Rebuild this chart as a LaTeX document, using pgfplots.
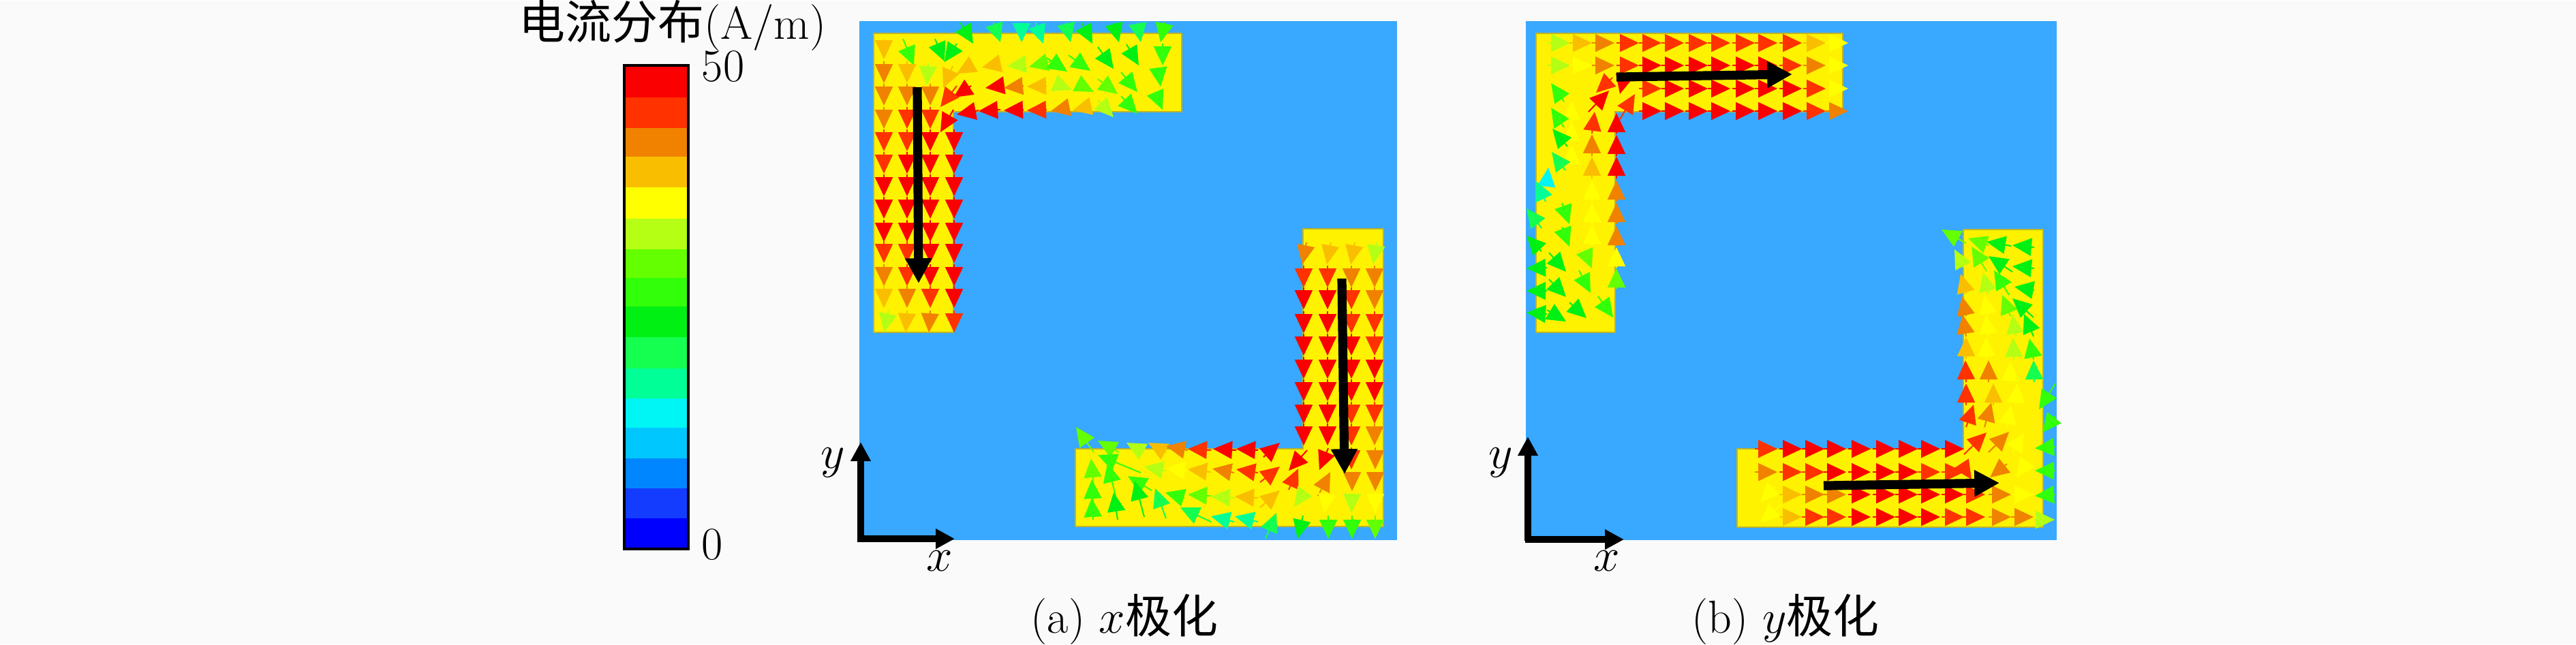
\documentclass[border=0pt]{standalone}
\usepackage{fontspec}
\usepackage{pgfplots}
\pgfplotsset{compat=1.18}
\usetikzlibrary{arrows.meta}
\newfontfamily\cjk{Noto Sans CJK SC}
\newcommand{\fs}{\fontsize{17}{20}\selectfont}
\definecolor{pagebg}{RGB}{250,250,250}
\definecolor{panelblue}{RGB}{57,168,255}
\definecolor{edgeol}{RGB}{190,180,40}
\definecolor{cb1}{RGB}{0,0,255}
\definecolor{cb2}{RGB}{20,60,255}
\definecolor{cb3}{RGB}{0,135,255}
\definecolor{cb4}{RGB}{0,200,255}
\definecolor{cb5}{RGB}{0,245,245}
\definecolor{cb6}{RGB}{0,255,150}
\definecolor{cb7}{RGB}{20,255,80}
\definecolor{cb8}{RGB}{0,240,20}
\definecolor{cb9}{RGB}{50,255,10}
\definecolor{cb10}{RGB}{100,255,0}
\definecolor{cb11}{RGB}{180,255,20}
\definecolor{cb12}{RGB}{255,255,0}
\definecolor{cb13}{RGB}{250,190,0}
\definecolor{cb14}{RGB}{240,130,0}
\definecolor{cb15}{RGB}{255,50,0}
\definecolor{cb16}{RGB}{250,0,0}
\pgfplotsset{
  cone/.style={
    point meta=\thisrow{c},
    quiver={u=\thisrow{u},v=\thisrow{v},colored=mapped color,
      every arrow/.append style={line width=0.5pt,-{Triangle[length=7pt,width=6.5pt]}}}
  },
  bigarrow/.style={black,line width=3.3pt,-{Triangle[length=9.2pt,width=9.2pt]}},
  axisarrow/.style={black,line width=2.3pt,-{Triangle[length=7pt,width=7pt]}},
}
\begin{document}
\begin{tikzpicture}
\begin{axis}[
  scale only axis,width=945pt,height=236.25pt,
  xmin=0,xmax=3780,ymin=0,ymax=945,y dir=reverse,
  hide axis,clip=false,
  point meta min=0,point meta max=50,
  colormap={hfss}{rgb255=(0,0,255) rgb255=(20,60,255) rgb255=(0,135,255) rgb255=(0,200,255)
    rgb255=(0,245,245) rgb255=(0,255,150) rgb255=(20,255,80) rgb255=(0,240,20)
    rgb255=(50,255,10) rgb255=(100,255,0) rgb255=(180,255,20) rgb255=(255,255,0)
    rgb255=(250,190,0) rgb255=(240,130,0) rgb255=(255,50,0) rgb255=(250,0,0)},
  colormap access=piecewise constant,
]
% page
\addplot[draw=none,fill=pagebg] coordinates {(0,0)(3780,0)(3780,945)(0,945)} --cycle;
% colour bar
\addplot[draw=none,fill=cb16] coordinates {(916,95)(1010,95)(1010,142)(916,142)} --cycle;
\addplot[draw=none,fill=cb15] coordinates {(916,142)(1010,142)(1010,187)(916,187)} --cycle;
\addplot[draw=none,fill=cb14] coordinates {(916,187)(1010,187)(1010,229)(916,229)} --cycle;
\addplot[draw=none,fill=cb13] coordinates {(916,229)(1010,229)(1010,274)(916,274)} --cycle;
\addplot[draw=none,fill=cb12] coordinates {(916,274)(1010,274)(1010,320)(916,320)} --cycle;
\addplot[draw=none,fill=cb11] coordinates {(916,320)(1010,320)(1010,365)(916,365)} --cycle;
\addplot[draw=none,fill=cb10] coordinates {(916,365)(1010,365)(1010,407)(916,407)} --cycle;
\addplot[draw=none,fill=cb9] coordinates {(916,407)(1010,407)(1010,449)(916,449)} --cycle;
\addplot[draw=none,fill=cb8] coordinates {(916,449)(1010,449)(1010,494)(916,494)} --cycle;
\addplot[draw=none,fill=cb7] coordinates {(916,494)(1010,494)(1010,540)(916,540)} --cycle;
\addplot[draw=none,fill=cb6] coordinates {(916,540)(1010,540)(1010,584)(916,584)} --cycle;
\addplot[draw=none,fill=cb5] coordinates {(916,584)(1010,584)(1010,627)(916,627)} --cycle;
\addplot[draw=none,fill=cb4] coordinates {(916,627)(1010,627)(1010,672)(916,672)} --cycle;
\addplot[draw=none,fill=cb3] coordinates {(916,672)(1010,672)(1010,716)(916,716)} --cycle;
\addplot[draw=none,fill=cb2] coordinates {(916,716)(1010,716)(1010,760)(916,760)} --cycle;
\addplot[draw=none,fill=cb1] coordinates {(916,760)(1010,760)(1010,805)(916,805)} --cycle;
\addplot[draw=black,line width=0.9pt] coordinates {(916,95)(1010,95)(1010,805)(916,805)} --cycle;
% panel backgrounds
\addplot[draw=none,fill=panelblue] coordinates {(1261,30)(2050,30)(2050,792)(1261,792)} --cycle;
\addplot[draw=none,fill=panelblue] coordinates {(2239,30)(3018,30)(3018,792)(2239,792)} --cycle;
% L shapes
\addplot[draw=edgeol,line width=0.4pt,fill=yellow] coordinates {(1282,48)(1734,48)(1734,163)(1399,163)(1399,487)(1282,487)} --cycle;
\addplot[draw=edgeol,line width=0.4pt,fill=yellow] coordinates {(1912,335)(2030,335)(2030,772)(1578,772)(1578,658)(1912,658)} --cycle;
\addplot[draw=edgeol,line width=0.4pt,fill=yellow] coordinates {(2254,48)(2704,48)(2704,163)(2370,163)(2370,487)(2254,487)} --cycle;
\addplot[draw=edgeol,line width=0.4pt,fill=yellow] coordinates {(2881,336)(2998,336)(2998,773)(2549,773)(2549,658)(2881,658)} --cycle;
% panel (a) current vectors
\addplot[cone] table {
x y u v c
1409 32 19 31 23
1458 32 10 29 19
1499 32 0 29 16
1520 32 11 31 17
1564 32 7 29 19
1587 32 16 31 23
1634 32 8 29 23
1669 32 5 29 21
1709 32 -6 29 25
1425 95 -21 12 40
1468 92 -27 6 39
1505 93 -27 3 33
1542 89 -32 8 29
1536 84 30 20 26
1568 80 32 23 26
1611 68 23 32 23
1653 64 18 31 23
1706 63 0 32 25
1425 125 -26 17 48
1468 125 -22 3 48
1502 125 -29 3 42
1536 125 -29 1 38
1548 121 25 10 32
1580 121 25 13 31
1611 115 29 22 30
1645 105 24 29 28
1700 103 3 23 26
1436 161 -32 6 48
1468 160 -32 2 48
1502 160 -29 1 48
1536 160 -29 1 45
1566 157 -24 5 42
1600 155 -26 6 38
1611 146 23 25 33
1645 140 24 26 28
1695 134 11 26 27
1399 160 -19 33 48
1404 125 -24 31 45
1297 57 0 29 39
1325 56 16 39 27
1372 56 14 33 23
1404 63 -18 27 22
1297 89 0 32 42
1331 89 0 32 39
1362 92 -2 32 33
1398 96 -14 32 40
1297 122 0 32 42
1331 122 0 32 42
1365 122 0 32 42
1297 156 0 32 42
1331 156 0 32 45
1365 156 0 32 45
1297 189 0 32 45
1331 189 0 32 45
1365 189 0 32 48
1400 189 0 32 48
1297 222 0 32 45
1331 222 0 32 48
1365 222 0 32 48
1400 222 0 32 48
1297 255 0 32 48
1331 255 0 32 48
1365 255 0 32 48
1400 255 0 32 48
1297 288 0 32 48
1331 288 0 32 48
1365 288 0 32 48
1400 288 0 32 48
1297 322 0 32 48
1331 322 0 32 48
1365 322 0 32 48
1400 322 0 32 48
1297 353 0 32 45
1331 353 0 32 45
1365 353 0 32 48
1400 353 0 32 48
1297 387 0 32 42
1331 387 0 32 45
1365 387 0 32 48
1400 387 0 32 48
1297 419 0 32 39
1331 419 0 32 42
1365 419 0 32 45
1400 419 0 32 48
1304 455 -7 32 33
1331 455 -2 32 39
1365 455 -2 32 42
1400 455 0 32 45
1917 355 -6 32 42
1953 355 -6 32 39
1988 355 -6 32 38
2020 355 -5 32 32
1913 389 0 32 45
1948 389 0 32 45
1983 389 0 32 42
2017 389 0 32 42
1913 421 0 32 48
1948 421 0 32 48
1983 421 0 32 45
2017 421 0 32 42
1913 456 0 32 48
1948 456 0 32 48
1983 456 0 32 46
2017 456 0 32 45
1913 489 0 32 48
1948 489 0 32 48
1983 489 0 32 48
2017 489 0 32 45
1913 523 0 32 48
1948 523 0 32 48
1983 523 0 32 48
2017 523 0 32 48
1913 556 0 32 48
1948 556 0 32 48
1983 556 0 32 48
2017 556 0 32 48
1913 589 0 32 48
1948 589 0 32 48
1983 589 0 32 45
2017 589 0 32 45
1913 621 0 32 48
1948 621 0 32 48
1983 621 0 32 45
2017 621 0 32 42
1605 663 -26 -37 30
1642 663 -31 -17 30
1679 663 -26 -14 33
1711 663 -26 -14 38
1743 660 -32 -6 41
1777 660 -34 -2 44
1814 660 -34 -2 48
1846 660 -32 -2 48
1854 670 24 -21 48
1605 714 -4 -42 30
1674 693 -63 -26 26
1711 690 -32 -6 33
1743 690 -32 -4 37
1777 692 -34 -4 40
1811 693 -32 -6 43
1846 693 -32 -5 46
1849 707 29 -23 45
1918 660 -27 30 48
1604 740 -2 -37 27
1637 727 -12 -48 25
1690 719 -35 -21 25
1738 730 -28 -8 27
1777 727 -34 -2 31
1811 730 -34 -2 32
1846 730 -34 -2 38
1849 744 29 -25 39
1891 718 14 -31 44
1934 727 18 -35 42
1604 762 -2 -32 26
1640 762 -6 -40 24
1679 758 -14 -53 23
1711 760 -16 -44 20
1777 765 -45 -21 19
1811 765 -34 -8 17
1846 765 -34 -8 18
1857 790 16 -38 19
1912 756 -8 34 23
1949 756 0 34 26
1984 756 0 34 28
2018 756 0 34 29
1915 720 -16 23 34
1947 725 -4 27 35
1984 725 -1 27 33
2018 722 0 30 37
1984 693 0 27 43
2018 693 0 27 41
1949 657 -13 32 48
1983 656 0 32 44
2018 656 0 32 41
};
% panel (b) current vectors
\addplot[cone] table {
x y u v c
2271 62 33 0 33
2303 62 33 0 39
2336 62 33 0 42
2372 62 33 0 44
2405 62 33 0 44
2438 62 33 0 45
2473 62 33 0 44
2506 62 33 0 44
2542 62 33 0 45
2575 62 33 0 45
2611 62 33 0 44
2646 62 33 0 39
2679 62 33 0 36
2271 95 33 0 33
2303 95 33 0 36
2336 95 33 0 41
2372 95 33 0 44
2405 95 33 0 47
2438 95 33 0 48
2473 95 33 0 48
2506 95 33 0 48
2542 95 33 0 48
2575 95 33 0 48
2611 95 33 0 46
2646 95 33 0 41
2679 95 33 0 37
2366 113 -24 22 44
2383 113 -6 24 47
2405 129 33 0 46
2438 129 33 0 48
2473 129 33 0 48
2506 129 33 0 48
2542 129 33 0 48
2575 129 33 0 48
2611 129 33 0 48
2646 129 33 0 44
2679 129 33 0 37
2405 162 33 0 48
2438 162 33 0 48
2473 162 33 0 48
2506 162 33 0 48
2542 162 33 0 47
2575 162 33 0 48
2611 162 33 0 48
2646 162 33 0 45
2679 162 33 0 42
2377 174 22 -37 46
2372 195 0 -30 47
2372 228 0 -31 47
2372 261 0 -32 48
2372 295 0 -31 41
2372 328 0 -31 41
2372 360 0 -29 42
2372 392 0 -30 35
2372 423 0 -30 31
2345 434 22 31 25
2331 163 30 -31 47
2336 195 4 -32 44
2336 228 0 -32 43
2336 261 0 -32 40
2336 295 0 -31 36
2336 328 0 -31 36
2336 360 0 -31 36
2325 367 11 26 30
2317 396 17 33 27
2303 443 25 23 24
2306 178 0 -31 37
2306 209 0 -31 36
2306 243 0 -31 36
2292 297 11 31 27
2292 332 11 29 27
2273 370 25 28 24
2273 409 25 26 24
2270 454 28 17 23
2295 148 -19 -27 25
2295 186 -19 -29 26
2300 214 -22 -26 23
2297 249 -20 -27 20
2270 264 2 -19 14
2268 295 -14 -30 18
2262 334 -22 -29 20
2262 368 -22 -23 23
2270 392 -30 1 24
2270 426 -30 0 24
2270 460 -30 -2 23
2885 356 -36 -20 29
2918 359 -30 -10 29
2951 360 -36 -6 24
2985 362 -32 -3 23
2882 392 -14 -27 33
2915 397 -22 -36 29
2953 398 -35 -23 24
2985 393 -32 -3 23
2885 430 -8 -29 38
2918 430 -8 -31 33
2948 432 -22 -36 26
2985 425 -29 -5 23
2885 463 -6 -29 41
2918 463 -6 -31 36
2950 463 -12 -31 31
2984 465 -31 -28 24
2885 493 -5 -32 41
2918 493 -4 -32 37
2958 493 -5 -32 32
2984 493 -14 -33 22
2885 526 0 -32 39
2915 526 -1 -32 36
2955 527 -1 -32 33
2984 527 -6 -31 25
2885 560 -1 -32 44
2918 560 0 -32 41
2950 560 0 -30 35
2985 560 -1 -32 21
2885 594 0 -32 45
2925 594 0 -32 40
2958 594 2 -32 35
3016 562 -24 38 25
2885 626 11 -33 46
2912 626 10 -36 43
2945 626 6 -32 37
3016 610 -19 24 25
2882 666 33 -32 46
2918 663 30 -30 42
2953 663 17 -29 37
3016 655 -30 2 26
3016 690 -30 0 26
2975 677 -16 23 37
2945 680 -25 20 41
3016 725 -30 2 27
2985 762 30 0 33
2575 658 33 0 44
2611 658 33 0 47
2644 658 33 0 48
2676 658 33 0 48
2712 658 33 0 48
2748 658 33 0 48
2781 658 33 0 48
2814 658 33 0 47
2849 658 33 0 47
2575 692 33 0 42
2611 692 33 0 44
2644 692 33 0 44
2676 692 33 0 47
2712 692 33 0 47
2748 692 33 0 47
2781 692 33 0 47
2814 692 33 0 46
2849 692 33 0 46
2880 683 13 20 44
2605 713 -22 23 37
2611 725 33 0 40
2644 725 33 0 42
2676 725 33 0 43
2712 725 33 0 47
2748 725 33 0 47
2781 725 33 0 47
2814 725 33 0 47
2849 725 33 0 47
2880 725 33 0 45
2918 725 33 0 41
2951 725 33 0 37
2613 740 -30 26 36
2611 758 33 0 38
2644 758 33 0 45
2676 758 33 0 46
2712 758 33 0 47
2748 758 33 0 47
2781 758 33 0 47
2814 758 33 0 47
2849 758 33 0 44
2880 758 33 0 44
2918 758 33 0 42
2951 758 33 0 41
};
% polarisation arrows
\addplot[bigarrow] coordinates {(1346,127)(1348,415)};
\addplot[bigarrow] coordinates {(1969,408)(1973,695)};
\addplot[bigarrow] coordinates {(2372,112)(2630,108)};
\addplot[bigarrow] coordinates {(2676,712)(2934,708)};
% coordinate arrows
\addplot[axisarrow] coordinates {(1263,793)(1263,648)};
\addplot[axisarrow] coordinates {(1258,790)(1401,790)};
\addplot[axisarrow] coordinates {(2242,793)(2242,640)};
\addplot[axisarrow] coordinates {(2238,791)(2383,791)};
% text
\node[font=\fs,inner sep=0pt] at (axis cs:987,36) {{\cjk 电流分布}(A/m)};
\node[font=\fs,inner sep=0pt,anchor=west] at (axis cs:1029,96) {50};
\node[font=\fs,inner sep=0pt,anchor=west] at (axis cs:1029,798) {0};
\node[font=\fs,inner sep=0pt] at (axis cs:1222,678) {$y$};
\node[font=\fs,inner sep=0pt] at (axis cs:1379,823) {$x$};
\node[font=\fs,inner sep=0pt] at (axis cs:2202,678) {$y$};
\node[font=\fs,inner sep=0pt] at (axis cs:2358,823) {$x$};
\node[font=\fs,inner sep=0pt] at (axis cs:1650,908) {(a) $x${\cjk 极化}};
\node[font=\fs,inner sep=0pt] at (axis cs:2620,908) {(b) $y${\cjk 极化}};
\end{axis}
\end{tikzpicture}
\end{document}
